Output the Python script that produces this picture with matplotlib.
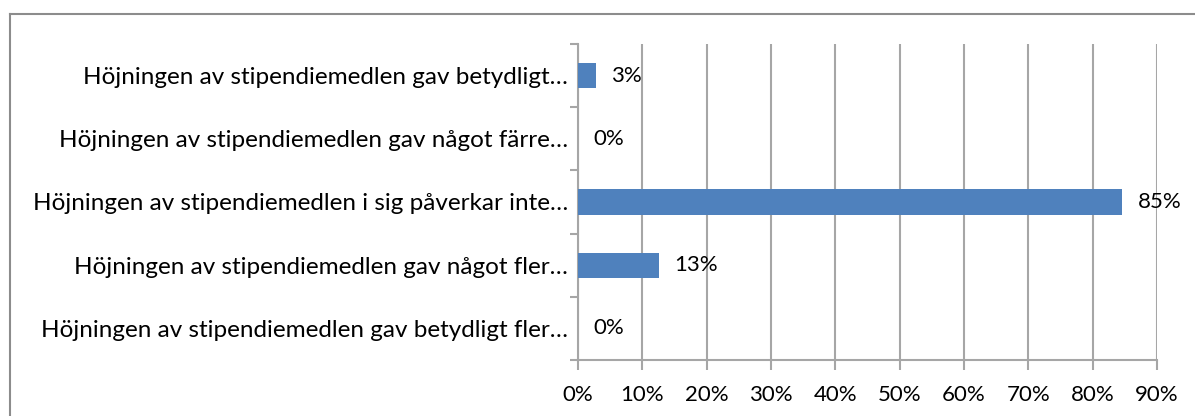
import numpy as np
import matplotlib.pyplot as plt
from matplotlib.lines import Line2D

## Data (top to bottom, as shown)
categories = ['Höjningen av stipendiemedlen gav betydligt…',
              'Höjningen av stipendiemedlen gav något färre…',
              'Höjningen av stipendiemedlen i sig påverkar inte…',
              'Höjningen av stipendiemedlen gav något fler…',
              'Höjningen av stipendiemedlen gav betydligt fler…']
values = [2.8, 0.0, 84.6, 12.6, 0.0]
xticks = [0, 10, 20, 30, 40, 50, 60, 70, 80, 90]

## Styles
font = 'Lato'
fs_cat = 17.5
fs_num = 16
bar_color = '#4F81BD'
grid_color = '#A6A6A6'

W, H = 1195, 416
fig = plt.figure(figsize=(W / 100, H / 100), dpi=100)
ax = fig.add_axes([578 / W, 1 - 360 / H, (1157 - 578) / W, (360 - 44) / H])

n = len(categories)
y = np.arange(n)[::-1]
ax.barh(y, values, height=0.4, color=bar_color, zorder=3)

for yi, v in zip(y, values):
    ax.annotate('%d%%' % round(v), (v, yi), xytext=(11, 0), textcoords='offset points',
                va='center', ha='left', fontname=font, fontsize=fs_num, color='black', zorder=4)

ax.set_xlim(0, 90)
ax.set_ylim(-0.5, n - 0.5)
ax.set_xticks(xticks)
ax.set_xticklabels(['%d%%' % t for t in xticks], fontname=font, fontsize=fs_num)

# category labels centred, ticks on the boundaries
ax.set_yticks(y)
ax.set_yticklabels(categories, fontname=font, fontsize=fs_cat)
ax.set_yticks(np.arange(n + 1) - 0.5, minor=True)
ax.tick_params(axis='y', which='major', length=0, pad=7)
ax.tick_params(axis='y', which='minor', length=6, width=1.5, color=grid_color)
ax.tick_params(axis='x', which='major', length=7, width=1.5, color=grid_color, pad=11)

ax.grid(axis='x', color=grid_color, linewidth=1.5, zorder=0)
for s in ['top', 'right']:
    ax.spines[s].set_visible(False)
for s in ['left', 'bottom']:
    ax.spines[s].set_color(grid_color)
    ax.spines[s].set_linewidth(1.5)

# outer chart border (cut off at right and bottom)
fig.add_artist(Line2D([9.5 / W, 9.5 / W], [0, 1 - 14 / H], color='#8C8C8C', linewidth=1.5))
fig.add_artist(Line2D([9.5 / W, 1], [1 - 14 / H, 1 - 14 / H], color='#8C8C8C', linewidth=1.5))

plt.savefig('out.png', dpi=100)
